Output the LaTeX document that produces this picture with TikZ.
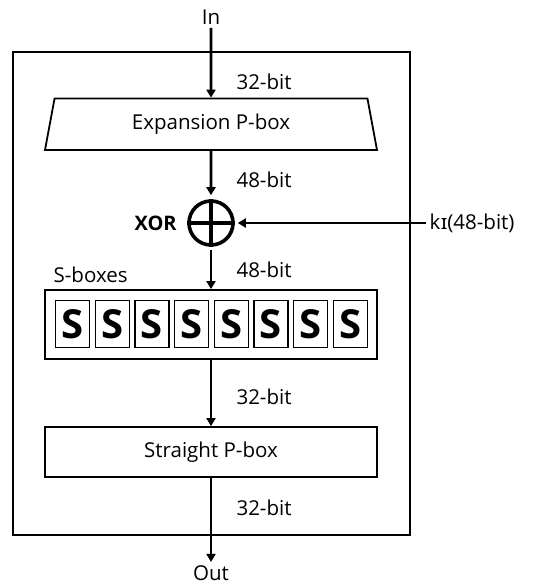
\documentclass[tikz,border=0pt]{standalone}
\usepackage{fontspec}
\setmainfont{Open Sans}
\newfontfamily\ipafont{Noto Sans}
\usetikzlibrary{arrows.meta,positioning,shapes.geometric}

\begin{document}
\begin{tikzpicture}[
  x=1pt, y=-1pt,
  font=\fontsize{20.5}{24}\selectfont,
  box/.style={draw, line width=1.8pt, minimum width=332pt, minimum height=50pt, inner sep=0pt},
  expbox/.style={trapezium, trapezium stretches body, draw, line width=1.8pt,
                 minimum width=332pt, minimum height=51.5pt, trapezium angle=65, inner sep=0pt},
  sbox/.style={draw, line width=1.4pt, minimum width=34pt, minimum height=47pt, inner sep=0pt,
               font=\fontsize{40}{40}\selectfont\bfseries},
  xor/.style={circle, draw, line width=3.6pt, minimum size=44pt, inner sep=0pt},
  bits/.style={anchor=west},
  arrow/.style={-{Triangle[length=8pt,width=9pt]}, line width=2.6pt}
]
\useasboundingbox (0,0) rectangle (536,587);
% round frame
\node[draw, line width=1.8pt, minimum width=397pt, minimum height=483pt, inner sep=0pt] (round) at (211.5,293.5) {};
\node (in) at (211,17) {In};
\node[expbox] (expand) at (211,124.25) {Expansion P-box};
\node[xor] (xor) at (211,223) {};
\draw[line width=3.6pt] (xor.north) -- (xor.south) (xor.west) -- (xor.east);
\node[left=7pt of xor, font=\fontsize{20}{24}\selectfont\bfseries] (xorlabel) {XOR};
\node[anchor=west] (key) at (426,223) {k\kern0.5pt{\ipafont ɪ}(48-bit)};
\node[box, minimum height=69pt] (sboxes) at (211,324.5) {};
\node[anchor=south west, xshift=6pt, yshift=3pt] (sboxlabel) at (sboxes.north west) {S-boxes};
\node[sbox] (s1) at (72.5,324) {S};
\foreach \i [remember=\i as \j (initially 1)] in {2,...,8}
  \node[sbox, right=4.3pt of s\j] (s\i) {S};
\node[box] (straight) at (211,452) {Straight P-box};
\node (out) at (211,573) {Out};
% bit widths
\node[bits] (w1) at (233,82) {32-bit};
\node[bits] (w2) at (233,180) {48-bit};
\node[bits] (w3) at (233,270) {48-bit};
\node[bits] (w4) at (233,397) {32-bit};
\node[bits] (w5) at (233,508) {32-bit};
% data path
\draw[arrow] (in) -- (expand.north);
\draw[arrow, shorten >=4pt] (expand.south) -- (xor.north);
\draw[arrow, shorten <=3pt] (xor.south) -- (sboxes.north);
\draw[arrow] (sboxes.south) -- (straight.north);
\draw[arrow] (straight.south) -- (out);
\draw[arrow, shorten >=3pt] (key.west) -- (xor.east);
\end{tikzpicture}
\end{document}
